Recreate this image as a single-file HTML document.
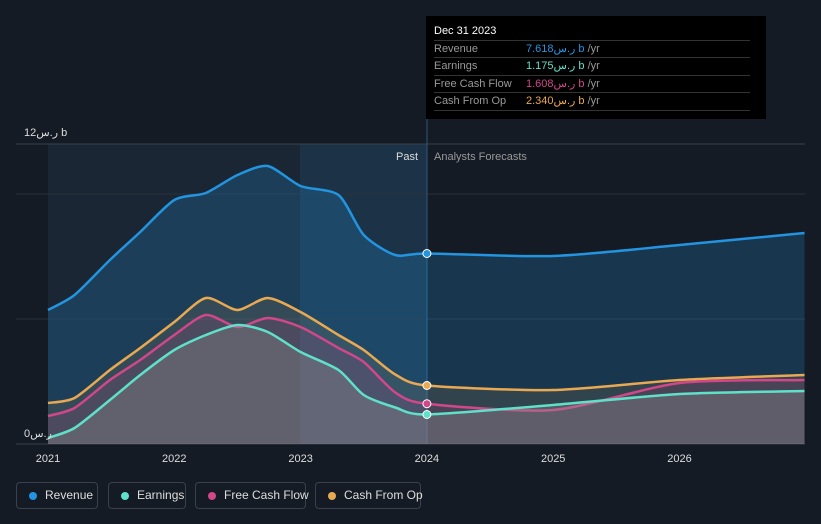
<!DOCTYPE html>
<html><head><meta charset="utf-8"><style>
body{margin:0;background:#151b24;font-family:"Liberation Sans","Noto Sans CJK SC",sans-serif;}
#wrap{position:relative;width:821px;height:524px;overflow:hidden;}
.tt{position:absolute;left:426px;top:16px;width:340px;height:103px;background:#000;color:#fff;font-size:11px;}
.tt .row{position:absolute;left:8px;width:316px;border-top:1px solid #333;height:17px;line-height:17px;color:#999;}
.leg{position:absolute;top:482px;height:27px;border:1px solid #3a414c;border-radius:4px;color:#ddd;font-size:12px;line-height:25px;box-sizing:border-box;padding-left:28px;white-space:nowrap;}
.leg i{position:absolute;left:12px;top:9px;width:8px;height:8px;border-radius:50%;}
</style></head><body><div id="wrap">
<svg id="svg" width="821" height="524"></svg>
<div class="tt">
<div style="position:absolute;left:8px;top:9px;font-size:11px;color:#fff">Dec 31 2023</div>
<div class="row" style="top:24px">Revenue<span style="position:absolute;left:92px;color:#2394df">7.618ر.س b <span style="color:#999">/yr</span></span></div>
<div class="row" style="top:41px">Earnings<span style="position:absolute;left:92px;color:#5fe0c9">1.175ر.س b <span style="color:#999">/yr</span></span></div>
<div class="row" style="top:59px">Free Cash Flow<span style="position:absolute;left:92px;color:#d1478a">1.608ر.س b <span style="color:#999">/yr</span></span></div>
<div class="row" style="top:76px;border-bottom:1px solid #333">Cash From Op<span style="position:absolute;left:92px;color:#e8a952">2.340ر.س b <span style="color:#999">/yr</span></span></div>
</div>
<div class="leg" style="left:16px;width:82px"><i style="background:#2394df"></i>Revenue</div>
<div class="leg" style="left:108px;width:78px"><i style="background:#5fe0c9"></i>Earnings</div>
<div class="leg" style="left:195px;width:111px"><i style="background:#d1478a"></i>Free Cash Flow</div>
<div class="leg" style="left:315px;width:106px"><i style="background:#e8a952"></i>Cash From Op</div>
</div>
<script>
const years=[2021.0,2021.21,2021.49,2021.73,2022.0,2022.25,2022.5,2022.74,2023.0,2023.3,2023.5,2023.75,2024.0,2025.0,2026.0,2026.99];
const revenue=[5.36,5.96,7.36,8.48,9.76,10.04,10.76,11.12,10.32,9.96,8.36,7.56,7.62,7.52,7.96,8.44];
const cashFromOp=[1.64,1.84,2.96,3.84,4.88,5.84,5.36,5.84,5.28,4.36,3.76,2.78,2.34,2.16,2.56,2.76];
const freeCashFlow=[1.12,1.44,2.56,3.36,4.36,5.16,4.68,5.04,4.68,3.84,3.28,2.06,1.61,1.36,2.44,2.56];
const earnings=[0.24,0.64,1.76,2.76,3.76,4.36,4.76,4.48,3.68,2.96,1.96,1.46,1.18,1.56,2.0,2.12];
const xTicks=[2021,2022,2023,2024,2025,2026];
const svg=document.getElementById('svg');const NS='http://www.w3.org/2000/svg';
const X=y=>48+(y-2021)*126.3, Y=v=>444-v*25;
function el(t,a,name){const e=document.createElementNS(NS,t);for(const k in a)e.setAttribute(k,a[k]);


svg.appendChild(e);return e;}
function path(vals){const p=years.map((y,i)=>[X(y),Y(vals[i])]);let d='M'+p[0];
for(let i=0;i<p.length-1;i++){const p0=p[i-1]||p[i],p1=p[i],p2=p[i+1],p3=p[i+2]||p2;
const k=8;const c1=[p1[0]+(p2[0]-p0[0])/k,p1[1]+(p2[1]-p0[1])/k],c2=[p2[0]-(p3[0]-p1[0])/k,p2[1]-(p3[1]-p1[1])/k];
d+='C'+c1+' '+c2+' '+p2;}return d;}
el('rect',{x:48,y:144,width:379,height:300,fill:'#1a2633'},'past-region');
el('rect',{x:300,y:144,width:127,height:300,fill:'#1d3a55',opacity:0.6},'past-highlight');
[[144,'#3a414c'],[194,'#2a313b'],[319,'#2a313b'],[444,'#3a414c']].forEach(g=>el('line',{x1:16,x2:805,y1:g[0],y2:g[0],stroke:g[1]},'gridline'));
el('line',{x1:427,x2:427,y1:16,y2:444,stroke:'#2d5a80'},'today-line');
const series=[[revenue,'#2394df','rgba(35,148,223,0.22)','revenue'],[cashFromOp,'#e8a952','rgba(232,169,82,0.12)','cash-from-op'],[freeCashFlow,'#d1478a','rgba(209,71,138,0.15)','free-cash-flow'],[earnings,'#5fe0c9','rgba(140,140,140,0.35)','earnings']];
series.forEach(s=>{const d=path(s[0]);
el('path',{d:d+'L'+X(years[years.length-1])+','+Y(0)+'L'+X(years[0])+','+Y(0)+'Z',fill:s[2]},s[3]+'-area');
el('path',{d:d,fill:'none',stroke:s[1],'stroke-width':2.5},s[3]+'-line');
el('circle',{cx:X(2024),cy:Y(s[0][12]),r:4,fill:s[1],stroke:'#fff','stroke-width':1},s[3]+'-marker');});
xTicks.forEach(t=>{const e=el('text',{x:X(t),y:462,fill:'#ddd','font-size':11,'text-anchor':'middle'},'x-tick-label');e.textContent=t;});
let t=el('text',{x:24,y:136,fill:'#ddd','font-size':11},'y-tick-max');t.textContent='12ر.س b';
t=el('text',{x:24,y:437,fill:'#ddd','font-size':11},'y-tick-zero');t.textContent='0ر.س';
t=el('text',{x:418,y:160,fill:'#ddd','font-size':11,'text-anchor':'end'},'past-label');t.textContent='Past';
t=el('text',{x:434,y:160,fill:'#999','font-size':11},'forecast-label');t.textContent='Analysts Forecasts';
</script></body></html>
